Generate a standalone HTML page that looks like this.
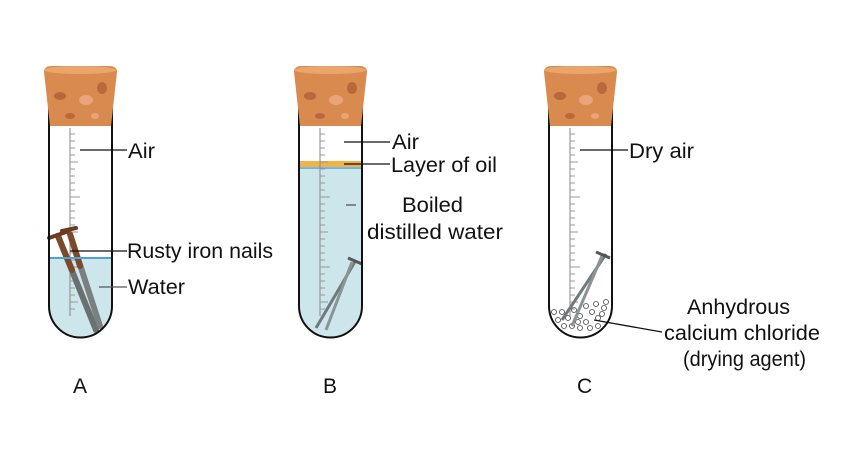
<!DOCTYPE html>
<html><head><meta charset="utf-8"><style>
html,body{margin:0;padding:0;background:#fff;}
svg{display:block;}
text{font-family:"Liberation Sans",sans-serif;font-size:21px;fill:#111;}
</style></head><body>
<svg width="841" height="456" viewBox="0 0 841 456" xmlns="http://www.w3.org/2000/svg">
<defs>
<g id="scale">
  <line x1="70" y1="128" x2="70" y2="316" stroke="#888" stroke-width="1"/>
  <g stroke="#999" stroke-width="1">
    <line x1="70" y1="134" x2="75" y2="134"/><line x1="70" y1="141" x2="75" y2="141"/><line x1="70" y1="148" x2="75" y2="148"/><line x1="70" y1="155" x2="75" y2="155"/><line x1="70" y1="162" x2="78" y2="162"/>
    <line x1="70" y1="169" x2="75" y2="169"/><line x1="70" y1="176" x2="75" y2="176"/><line x1="70" y1="183" x2="75" y2="183"/><line x1="70" y1="190" x2="75" y2="190"/><line x1="70" y1="197" x2="80" y2="197"/>
    <line x1="70" y1="204" x2="75" y2="204"/><line x1="70" y1="211" x2="75" y2="211"/><line x1="70" y1="218" x2="75" y2="218"/><line x1="70" y1="225" x2="75" y2="225"/><line x1="70" y1="232" x2="78" y2="232"/>
    <line x1="70" y1="239" x2="75" y2="239"/><line x1="70" y1="246" x2="75" y2="246"/><line x1="70" y1="253" x2="75" y2="253"/><line x1="70" y1="260" x2="75" y2="260"/><line x1="70" y1="267" x2="80" y2="267"/>
    <line x1="70" y1="274" x2="75" y2="274"/><line x1="70" y1="281" x2="75" y2="281"/><line x1="70" y1="288" x2="75" y2="288"/><line x1="70" y1="295" x2="75" y2="295"/><line x1="70" y1="302" x2="78" y2="302"/><line x1="70" y1="309" x2="75" y2="309"/>
  </g>
</g>
<g id="cork">
  <path d="M44,72 Q44,66 52,66 L109,66 Q117,66 117,72 L111,126 L50,126 Z" fill="#d98b4f"/>
  <ellipse cx="80" cy="70" rx="36" ry="4" fill="#e9a56a"/>
  <ellipse cx="60" cy="96" rx="6" ry="4" fill="#b8683a"/>
  <ellipse cx="86" cy="100" rx="7" ry="5" fill="#e8a47a"/>
  <ellipse cx="102" cy="88" rx="5" ry="6" fill="#b8683a"/>
  <ellipse cx="70" cy="116" rx="5" ry="3" fill="#b8683a"/>
  <ellipse cx="95" cy="116" rx="4" ry="3" fill="#e8a47a"/>
</g>
<path id="tube" d="M49,80 L49,306 A31.5,31.5 0 0 0 112,306 L112,80" fill="none" stroke="#111" stroke-width="2"/>
</defs>

<!-- Tube A -->
<path d="M49,258 L112,258 L112,306 A31.5,31.5 0 0 1 49,306 Z" fill="#cde6ec"/>
<use href="#scale"/>
<g stroke-linecap="round">
  <line x1="58" y1="236" x2="96" y2="330" stroke="#6a7070" stroke-width="6"/>
  <line x1="70" y1="234" x2="100" y2="326" stroke="#7a8080" stroke-width="6"/>
  <line x1="58" y1="236" x2="72" y2="270" stroke="#7a4a2a" stroke-width="6"/>
  <line x1="70" y1="234" x2="80" y2="266" stroke="#7a4a2a" stroke-width="6"/>
  <line x1="49" y1="238" x2="66" y2="232" stroke="#6b3a20" stroke-width="4"/>
  <line x1="62" y1="231" x2="76" y2="228" stroke="#6b3a20" stroke-width="4"/>
</g>
<line x1="49" y1="258" x2="112" y2="258" stroke="#4aa3d8" stroke-width="2"/>
<use href="#tube"/>
<use href="#cork"/>
<line x1="80" y1="150" x2="127" y2="150" stroke="#111" stroke-width="1.3"/>
<line x1="70" y1="251" x2="127" y2="251" stroke="#111" stroke-width="1.3"/>
<line x1="99" y1="287" x2="127" y2="287" stroke="#555" stroke-width="1.3"/>
<text x="128" y="158" textLength="27" lengthAdjust="spacingAndGlyphs">Air</text>
<text x="127" y="258" textLength="146" lengthAdjust="spacingAndGlyphs">Rusty iron nails</text>
<text x="128" y="294" textLength="57" lengthAdjust="spacingAndGlyphs">Water</text>
<text x="73" y="393">A</text>

<!-- Tube B -->
<g transform="translate(250,0)">
  <path d="M49,168 L112,168 L112,306 A31.5,31.5 0 0 1 49,306 Z" fill="#cde6ec"/>
  <rect x="49" y="161" width="63" height="6" fill="#f2b24a"/>
  <line x1="49" y1="168" x2="112" y2="168" stroke="#4aa3d8" stroke-width="1.5"/>
  <use href="#scale"/>
  <line x1="106" y1="260" x2="66" y2="328" stroke="#6f7a7a" stroke-width="3"/>
  <line x1="102" y1="262" x2="76" y2="330" stroke="#8a9494" stroke-width="3"/>
  <line x1="98" y1="258" x2="112" y2="264" stroke="#555" stroke-width="3"/>
  <use href="#tube"/>
  <use href="#cork"/>
  <line x1="94" y1="142" x2="140" y2="142" stroke="#111" stroke-width="1.3"/>
  <line x1="94" y1="164" x2="140" y2="164" stroke="#111" stroke-width="1.3"/>
  <line x1="96" y1="205" x2="106" y2="205" stroke="#555" stroke-width="1.3"/>
  <text x="142" y="149" textLength="27" lengthAdjust="spacingAndGlyphs">Air</text>
  <text x="141" y="172" textLength="106" lengthAdjust="spacingAndGlyphs">Layer of oil</text>
  <text x="152" y="212" textLength="61" lengthAdjust="spacingAndGlyphs">Boiled</text>
  <text x="117" y="239" textLength="136" lengthAdjust="spacingAndGlyphs">distilled water</text>
  <text x="73" y="393">B</text>
</g>

<!-- Tube C -->
<g transform="translate(500,0)">
  <use href="#scale"/>
  <g fill="none" stroke="#444" stroke-width="0.8">
    <circle cx="62" cy="312" r="2.5"/><circle cx="68" cy="318" r="2.5"/><circle cx="74" cy="310" r="2.5"/><circle cx="58" cy="320" r="2.5"/><circle cx="80" cy="316" r="2.5"/><circle cx="86" cy="322" r="2.5"/><circle cx="92" cy="312" r="2.5"/><circle cx="98" cy="318" r="2.5"/><circle cx="104" cy="308" r="2.5"/><circle cx="106" cy="302" r="2.5"/><circle cx="64" cy="326" r="2.5"/><circle cx="72" cy="326" r="2.5"/><circle cx="80" cy="328" r="2.5"/><circle cx="90" cy="328" r="2.5"/><circle cx="98" cy="326" r="2.5"/><circle cx="54" cy="312" r="2.5"/><circle cx="86" cy="306" r="2.5"/><circle cx="96" cy="304" r="2.5"/><circle cx="78" cy="322" r="2.5"/><circle cx="102" cy="314" r="2.5"/>
  </g>
  <line x1="106" y1="254" x2="62" y2="320" stroke="#6f7a7a" stroke-width="3"/>
  <line x1="102" y1="256" x2="72" y2="326" stroke="#8a9494" stroke-width="3"/>
  <line x1="96" y1="252" x2="110" y2="258" stroke="#555" stroke-width="3"/>
  <use href="#tube"/>
  <use href="#cork"/>
  <line x1="80" y1="150" x2="128" y2="150" stroke="#111" stroke-width="1.3"/>
  <line x1="94" y1="320" x2="162" y2="332" stroke="#111" stroke-width="1.3"/>
  <text x="129" y="158" textLength="65" lengthAdjust="spacingAndGlyphs">Dry air</text>
  <text x="187" y="314" textLength="103" lengthAdjust="spacingAndGlyphs">Anhydrous</text>
  <text x="164" y="340" textLength="156" lengthAdjust="spacingAndGlyphs">calcium chloride</text>
  <text x="183" y="366" textLength="123" lengthAdjust="spacingAndGlyphs">(drying agent)</text>
  <text x="77" y="393">C</text>
</g>
</svg>
</body></html>
